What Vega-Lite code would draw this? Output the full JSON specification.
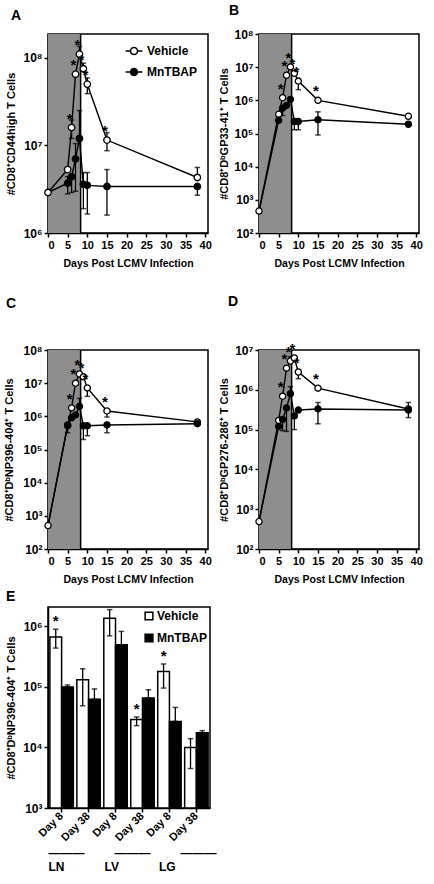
{
 "$schema": "https://vega.github.io/schema/vega-lite/v6.json",
 "padding": {"left": 2, "top": 3, "right": 2, "bottom": 2},
 "background": "white",
 "config": {
  "font": "Liberation Sans",
  "view": {"stroke": "black", "strokeWidth": 1.5},
  "axis": {"grid": false, "domainColor": "black", "domainWidth": 1.5, "tickColor": "black", "tickWidth": 1.5, "tickSize": 4, "labelColor": "black", "labelFont": "Liberation Sans", "labelFontWeight": "bold", "labelFontSize": 11, "titleColor": "black", "titleFont": "Liberation Sans", "titleFontWeight": "bold", "titleFontSize": 11, "labelPadding": 2, "labelOverlap": false},
  "axisX": {"tickCount": 9},
  "title": {"font": "Liberation Sans", "fontSize": 14, "fontWeight": "bold", "anchor": "start", "frame": "group", "color": "black"},
  "legend": {"labelFont": "Liberation Sans", "labelFontWeight": "bold", "labelFontSize": 12, "labelColor": "black"}
 },
 "datasets": {
  "shade": [{"panel": "A", "start": 0, "end": 8.3}, {"panel": "B", "start": 0, "end": 8.3}, {"panel": "C", "start": 0, "end": 8.3}, {"panel": "D", "start": 0, "end": 8.3}],
  "lines": [
   {"panel": "A", "series": "Vehicle", "day": 0, "value": 2900000},
   {"panel": "A", "series": "Vehicle", "day": 5, "value": 5300000},
   {"panel": "A", "series": "Vehicle", "day": 6, "value": 16000000, "sig": true},
   {"panel": "A", "series": "Vehicle", "day": 7, "value": 65000000, "sig": true},
   {"panel": "A", "series": "Vehicle", "day": 8, "value": 110000000, "sig": true},
   {"panel": "A", "series": "Vehicle", "day": 9, "value": 75000000, "sig": true},
   {"panel": "A", "series": "Vehicle", "day": 10, "value": 50000000, "sig": true},
   {"panel": "A", "series": "Vehicle", "day": 15, "value": 11500000, "sig": true},
   {"panel": "A", "series": "Vehicle", "day": 38, "value": 4300000},
   {"panel": "A", "series": "MnTBAP", "day": 0, "value": 2900000},
   {"panel": "A", "series": "MnTBAP", "day": 5, "value": 3700000},
   {"panel": "A", "series": "MnTBAP", "day": 6, "value": 4400000},
   {"panel": "A", "series": "MnTBAP", "day": 7, "value": 7000000},
   {"panel": "A", "series": "MnTBAP", "day": 8, "value": 12000000},
   {"panel": "A", "series": "MnTBAP", "day": 9, "value": 3600000},
   {"panel": "A", "series": "MnTBAP", "day": 10, "value": 3500000},
   {"panel": "A", "series": "MnTBAP", "day": 15, "value": 3400000},
   {"panel": "A", "series": "MnTBAP", "day": 38, "value": 3400000},
   {"panel": "B", "series": "Vehicle", "day": 0, "value": 460},
   {"panel": "B", "series": "Vehicle", "day": 5, "value": 380000},
   {"panel": "B", "series": "Vehicle", "day": 6, "value": 1200000, "sig": true},
   {"panel": "B", "series": "Vehicle", "day": 7, "value": 5700000, "sig": true},
   {"panel": "B", "series": "Vehicle", "day": 8, "value": 10200000, "sig": true},
   {"panel": "B", "series": "Vehicle", "day": 9, "value": 6500000, "sig": true},
   {"panel": "B", "series": "Vehicle", "day": 10, "value": 3800000, "sig": true},
   {"panel": "B", "series": "Vehicle", "day": 15, "value": 1000000, "sig": true},
   {"panel": "B", "series": "Vehicle", "day": 38, "value": 330000},
   {"panel": "B", "series": "MnTBAP", "day": 0, "value": 460},
   {"panel": "B", "series": "MnTBAP", "day": 5, "value": 250000},
   {"panel": "B", "series": "MnTBAP", "day": 6, "value": 580000},
   {"panel": "B", "series": "MnTBAP", "day": 7, "value": 700000},
   {"panel": "B", "series": "MnTBAP", "day": 8, "value": 1070000},
   {"panel": "B", "series": "MnTBAP", "day": 9, "value": 230000},
   {"panel": "B", "series": "MnTBAP", "day": 10, "value": 230000},
   {"panel": "B", "series": "MnTBAP", "day": 15, "value": 260000},
   {"panel": "B", "series": "MnTBAP", "day": 38, "value": 190000},
   {"panel": "C", "series": "Vehicle", "day": 0, "value": 510},
   {"panel": "C", "series": "Vehicle", "day": 5, "value": 520000},
   {"panel": "C", "series": "Vehicle", "day": 6, "value": 1800000, "sig": true},
   {"panel": "C", "series": "Vehicle", "day": 7, "value": 10000000, "sig": true},
   {"panel": "C", "series": "Vehicle", "day": 8, "value": 19000000, "sig": true},
   {"panel": "C", "series": "Vehicle", "day": 9, "value": 15500000, "sig": true},
   {"panel": "C", "series": "Vehicle", "day": 10, "value": 7200000, "sig": true},
   {"panel": "C", "series": "Vehicle", "day": 15, "value": 1450000, "sig": true},
   {"panel": "C", "series": "Vehicle", "day": 38, "value": 680000},
   {"panel": "C", "series": "MnTBAP", "day": 0, "value": 510},
   {"panel": "C", "series": "MnTBAP", "day": 5, "value": 550000},
   {"panel": "C", "series": "MnTBAP", "day": 6, "value": 900000},
   {"panel": "C", "series": "MnTBAP", "day": 7, "value": 1100000},
   {"panel": "C", "series": "MnTBAP", "day": 8, "value": 2000000},
   {"panel": "C", "series": "MnTBAP", "day": 9, "value": 520000},
   {"panel": "C", "series": "MnTBAP", "day": 10, "value": 520000},
   {"panel": "C", "series": "MnTBAP", "day": 15, "value": 550000},
   {"panel": "C", "series": "MnTBAP", "day": 38, "value": 600000},
   {"panel": "D", "series": "Vehicle", "day": 0, "value": 490},
   {"panel": "D", "series": "Vehicle", "day": 5, "value": 170000},
   {"panel": "D", "series": "Vehicle", "day": 6, "value": 690000, "sig": true},
   {"panel": "D", "series": "Vehicle", "day": 7, "value": 3500000, "sig": true},
   {"panel": "D", "series": "Vehicle", "day": 8, "value": 5300000, "sig": true},
   {"panel": "D", "series": "Vehicle", "day": 9, "value": 6300000, "sig": true},
   {"panel": "D", "series": "Vehicle", "day": 10, "value": 2800000, "sig": true},
   {"panel": "D", "series": "Vehicle", "day": 15, "value": 1100000, "sig": true},
   {"panel": "D", "series": "Vehicle", "day": 38, "value": 330000},
   {"panel": "D", "series": "MnTBAP", "day": 0, "value": 490},
   {"panel": "D", "series": "MnTBAP", "day": 5, "value": 120000},
   {"panel": "D", "series": "MnTBAP", "day": 6, "value": 180000},
   {"panel": "D", "series": "MnTBAP", "day": 7, "value": 350000},
   {"panel": "D", "series": "MnTBAP", "day": 8, "value": 800000},
   {"panel": "D", "series": "MnTBAP", "day": 9, "value": 220000},
   {"panel": "D", "series": "MnTBAP", "day": 10, "value": 310000},
   {"panel": "D", "series": "MnTBAP", "day": 15, "value": 330000},
   {"panel": "D", "series": "MnTBAP", "day": 38, "value": 310000}
  ],
  "errs": [
   {"panel": "A", "series": "Vehicle", "day": 6, "lo": 12000000, "hi": 19500000},
   {"panel": "A", "series": "Vehicle", "day": 8, "lo": 110000000, "hi": 135000000},
   {"panel": "A", "series": "Vehicle", "day": 9, "lo": 75000000, "hi": 87000000},
   {"panel": "A", "series": "Vehicle", "day": 10, "lo": 39000000, "hi": 59000000},
   {"panel": "A", "series": "Vehicle", "day": 15, "lo": 8700000, "hi": 14000000},
   {"panel": "A", "series": "Vehicle", "day": 38, "lo": 4300000, "hi": 5600000},
   {"panel": "A", "series": "MnTBAP", "day": 5, "lo": 2800000, "hi": 4400000},
   {"panel": "A", "series": "MnTBAP", "day": 6, "lo": 2900000, "hi": 4400000},
   {"panel": "A", "series": "MnTBAP", "day": 7, "lo": 3000000, "hi": 10500000},
   {"panel": "A", "series": "MnTBAP", "day": 8, "lo": 12000000, "hi": 25000000},
   {"panel": "A", "series": "MnTBAP", "day": 9, "lo": 1900000, "hi": 4900000},
   {"panel": "A", "series": "MnTBAP", "day": 10, "lo": 1650000, "hi": 4900000},
   {"panel": "A", "series": "MnTBAP", "day": 15, "lo": 1600000, "hi": 5300000},
   {"panel": "A", "series": "MnTBAP", "day": 38, "lo": 2700000, "hi": 3400000},
   {"panel": "B", "series": "Vehicle", "day": 10, "lo": 2100000, "hi": 3800000},
   {"panel": "B", "series": "MnTBAP", "day": 6, "lo": 350000, "hi": 580000},
   {"panel": "B", "series": "MnTBAP", "day": 9, "lo": 130000, "hi": 230000},
   {"panel": "B", "series": "MnTBAP", "day": 10, "lo": 130000, "hi": 230000},
   {"panel": "B", "series": "MnTBAP", "day": 15, "lo": 90000, "hi": 450000},
   {"panel": "C", "series": "Vehicle", "day": 10, "lo": 4000000, "hi": 7200000},
   {"panel": "C", "series": "Vehicle", "day": 15, "lo": 950000, "hi": 1450000},
   {"panel": "C", "series": "MnTBAP", "day": 5, "lo": 320000, "hi": 550000},
   {"panel": "C", "series": "MnTBAP", "day": 8, "lo": 2000000, "hi": 3500000},
   {"panel": "C", "series": "MnTBAP", "day": 9, "lo": 200000, "hi": 520000},
   {"panel": "C", "series": "MnTBAP", "day": 10, "lo": 260000, "hi": 520000},
   {"panel": "C", "series": "MnTBAP", "day": 15, "lo": 320000, "hi": 550000},
   {"panel": "D", "series": "Vehicle", "day": 8, "lo": 5300000, "hi": 6800000},
   {"panel": "D", "series": "Vehicle", "day": 10, "lo": 1900000, "hi": 2800000},
   {"panel": "D", "series": "Vehicle", "day": 38, "lo": 200000, "hi": 480000},
   {"panel": "D", "series": "MnTBAP", "day": 6, "lo": 94000, "hi": 180000},
   {"panel": "D", "series": "MnTBAP", "day": 7, "lo": 90000, "hi": 350000},
   {"panel": "D", "series": "MnTBAP", "day": 8, "lo": 800000, "hi": 1200000},
   {"panel": "D", "series": "MnTBAP", "day": 9, "lo": 100000, "hi": 220000},
   {"panel": "D", "series": "MnTBAP", "day": 15, "lo": 140000, "hi": 480000}
  ],
  "bars": [
   {"cat": "LN Day 8", "series": "Vehicle", "value": 670000, "lo": 440000, "hi": 900000, "sig": true},
   {"cat": "LN Day 8", "series": "MnTBAP", "value": 100000, "lo": 100000, "hi": 108000},
   {"cat": "LN Day 38", "series": "Vehicle", "value": 132000, "lo": 49000, "hi": 200000},
   {"cat": "LN Day 38", "series": "MnTBAP", "value": 63000, "lo": 63000, "hi": 93000},
   {"cat": "LV Day 8", "series": "Vehicle", "value": 1370000, "lo": 700000, "hi": 1900000},
   {"cat": "LV Day 8", "series": "MnTBAP", "value": 500000, "lo": 500000, "hi": 830000},
   {"cat": "LV Day 38", "series": "Vehicle", "value": 29000, "lo": 23000, "hi": 32000, "sig": true},
   {"cat": "LV Day 38", "series": "MnTBAP", "value": 66000, "lo": 66000, "hi": 90000},
   {"cat": "LG Day 8", "series": "Vehicle", "value": 180000, "lo": 96000, "hi": 240000, "sig": true},
   {"cat": "LG Day 8", "series": "MnTBAP", "value": 27000, "lo": 27000, "hi": 46000},
   {"cat": "LG Day 38", "series": "Vehicle", "value": 10000, "lo": 4500, "hi": 14000},
   {"cat": "LG Day 38", "series": "MnTBAP", "value": 17500, "lo": 17500, "hi": 19000}
  ]
 },
 "resolve": {"scale": {"x": "independent", "y": "independent", "fill": "independent"}, "legend": {"fill": "independent"}},
 "spacing": 2,
 "vconcat": [
  {
   "resolve": {"scale": {"x": "independent", "y": "independent", "fill": "independent"}, "legend": {"fill": "independent"}},
   "spacing": 24,
   "vconcat": [
    {
     "resolve": {"scale": {"x": "independent", "y": "independent", "fill": "independent"}, "legend": {"fill": "independent"}},
     "spacing": 4,
     "hconcat": [
      {
       "width": 160, "height": 199,
       "title": {"text": "A", "dx": -37, "offset": 10},
       "layer": [
        {"data": {"name": "shade"}, "transform": [{"filter": "datum.panel === 'A'"}], "mark": {"type": "rect", "fill": "#8e8e8e"},
         "encoding": {"x": {"field": "start", "type": "quantitative", "scale": {"domain": [0, 40.7], "nice": false, "zero": false}, "axis": {"values": [0, 5, 10, 15, 20, 25, 30, 35, 40], "tickCount": 9, "labelOverlap": false, "labelBound": false, "title": "Days Post LCMV Infection", "titlePadding": 8, "titleFontSize": 10.5}}, "x2": {"field": "end"}}},
        {"data": {"name": "shade"}, "transform": [{"filter": "datum.panel === 'A'"}], "mark": {"type": "rule", "color": "black", "strokeWidth": 1.5},
         "encoding": {"x": {"field": "end", "type": "quantitative"}}},
        {"data": {"name": "lines"}, "transform": [{"filter": "datum.panel === 'A'"}], "mark": {"type": "line", "color": "black", "strokeWidth": 1.4},
         "encoding": {"x": {"field": "day", "type": "quantitative", "axis": {"values": [0, 5, 10, 15, 20, 25, 30, 35, 40], "tickCount": 9, "labelOverlap": false, "labelBound": false, "title": "Days Post LCMV Infection", "titlePadding": 8, "titleFontSize": 10.5}}, "y": {"field": "value", "type": "quantitative", "scale": {"type": "log", "domain": [1000000, 187000000], "nice": false}, "axis": {"values": [1000000, 10000000, 100000000], "labelExpr": "'10' + ['⁰','¹','²','³','⁴','⁵','⁶','⁷','⁸','⁹'][round(log(datum.value)/LN10)]", "title": "#CD8⁺CD44high T Cells", "titlePadding": 6, "labelFontSize": 12}}, "detail": {"field": "series"}}},
        {"data": {"name": "errs"}, "transform": [{"filter": "datum.panel === 'A'"}], "mark": {"type": "rule", "color": "black", "strokeWidth": 1.3},
         "encoding": {"x": {"field": "day", "type": "quantitative"}, "y": {"field": "lo", "type": "quantitative"}, "y2": {"field": "hi"}}},
        {"data": {"name": "errs"}, "transform": [{"filter": "datum.panel === 'A'"}], "mark": {"type": "point", "shape": "stroke", "size": 30, "stroke": "black", "strokeWidth": 1.5},
         "encoding": {"x": {"field": "day", "type": "quantitative"}, "y": {"field": "hi", "type": "quantitative"}}},
        {"data": {"name": "errs"}, "transform": [{"filter": "datum.panel === 'A'"}], "mark": {"type": "point", "shape": "stroke", "size": 30, "stroke": "black", "strokeWidth": 1.5},
         "encoding": {"x": {"field": "day", "type": "quantitative"}, "y": {"field": "lo", "type": "quantitative"}}},
        {"data": {"name": "lines"}, "transform": [{"filter": "datum.panel === 'A' && !(datum.series === 'MnTBAP' && datum.day === 0)"}], "mark": {"type": "point", "filled": true, "size": 42, "stroke": "black", "strokeWidth": 1.3, "opacity": 1},
         "encoding": {"x": {"field": "day", "type": "quantitative"}, "y": {"field": "value", "type": "quantitative"},
          "fill": {"field": "series", "type": "nominal", "scale": {"domain": ["Vehicle", "MnTBAP"], "range": ["white", "black"]},
           "legend": {"title": null, "orient": "top-right", "offset": 3, "padding": 8, "symbolType": "M-2.4,0L-1,0M1,0L2.4,0M-1,0A1,1 0 1,1 1,0A1,1 0 1,1 -1,0Z", "symbolSize": 49, "symbolStrokeColor": "black", "symbolStrokeWidth": 1.5, "labelOffset": 7, "rowPadding": 7, "symbolOpacity": 1}}}},
        {"data": {"name": "lines"}, "transform": [{"filter": "datum.panel === 'A' && datum.sig"}], "mark": {"type": "text", "text": "*", "fontSize": 15, "fontWeight": "bold", "dy": -9, "dx": -2, "fill": "black"},
         "encoding": {"x": {"field": "day", "type": "quantitative"}, "y": {"field": "value", "type": "quantitative"}}}
       ]
      },
      {
       "width": 160, "height": 199,
       "title": {"text": "B", "dx": -30, "offset": 10},
       "layer": [
        {"data": {"name": "shade"}, "transform": [{"filter": "datum.panel === 'B'"}], "mark": {"type": "rect", "fill": "#8e8e8e"},
         "encoding": {"x": {"field": "start", "type": "quantitative", "scale": {"domain": [0, 40.7], "nice": false, "zero": false}, "axis": {"values": [0, 5, 10, 15, 20, 25, 30, 35, 40], "tickCount": 9, "labelOverlap": false, "labelBound": false, "title": "Days Post LCMV Infection", "titlePadding": 8, "titleFontSize": 10.5}}, "x2": {"field": "end"}}},
        {"data": {"name": "shade"}, "transform": [{"filter": "datum.panel === 'B'"}], "mark": {"type": "rule", "color": "black", "strokeWidth": 1.5},
         "encoding": {"x": {"field": "end", "type": "quantitative"}}},
        {"data": {"name": "lines"}, "transform": [{"filter": "datum.panel === 'B'"}], "mark": {"type": "line", "color": "black", "strokeWidth": 1.4},
         "encoding": {"x": {"field": "day", "type": "quantitative", "axis": {"values": [0, 5, 10, 15, 20, 25, 30, 35, 40], "tickCount": 9, "labelOverlap": false, "labelBound": false, "title": "Days Post LCMV Infection", "titlePadding": 8, "titleFontSize": 10.5}}, "y": {"field": "value", "type": "quantitative", "scale": {"type": "log", "domain": [100, 100000000], "nice": false}, "axis": {"values": [100, 1000, 10000, 100000, 1000000, 10000000, 100000000], "labelExpr": "'10' + ['⁰','¹','²','³','⁴','⁵','⁶','⁷','⁸','⁹'][round(log(datum.value)/LN10)]", "title": "#CD8⁺DᵇGP33-41⁺ T Cells", "titlePadding": 4, "labelFontSize": 12}}, "detail": {"field": "series"}}},
        {"data": {"name": "errs"}, "transform": [{"filter": "datum.panel === 'B'"}], "mark": {"type": "rule", "color": "black", "strokeWidth": 1.3},
         "encoding": {"x": {"field": "day", "type": "quantitative"}, "y": {"field": "lo", "type": "quantitative"}, "y2": {"field": "hi"}}},
        {"data": {"name": "errs"}, "transform": [{"filter": "datum.panel === 'B'"}], "mark": {"type": "point", "shape": "stroke", "size": 30, "stroke": "black", "strokeWidth": 1.5},
         "encoding": {"x": {"field": "day", "type": "quantitative"}, "y": {"field": "hi", "type": "quantitative"}}},
        {"data": {"name": "errs"}, "transform": [{"filter": "datum.panel === 'B'"}], "mark": {"type": "point", "shape": "stroke", "size": 30, "stroke": "black", "strokeWidth": 1.5},
         "encoding": {"x": {"field": "day", "type": "quantitative"}, "y": {"field": "lo", "type": "quantitative"}}},
        {"data": {"name": "lines"}, "transform": [{"filter": "datum.panel === 'B' && !(datum.series === 'MnTBAP' && datum.day === 0)"}], "mark": {"type": "point", "filled": true, "size": 38, "stroke": "black", "strokeWidth": 1.3, "opacity": 1},
         "encoding": {"x": {"field": "day", "type": "quantitative"}, "y": {"field": "value", "type": "quantitative"},
          "fill": {"field": "series", "type": "nominal", "scale": {"domain": ["Vehicle", "MnTBAP"], "range": ["white", "black"]}, "legend": null}}},
        {"data": {"name": "lines"}, "transform": [{"filter": "datum.panel === 'B' && datum.sig"}], "mark": {"type": "text", "text": "*", "fontSize": 15, "fontWeight": "bold", "dy": -9, "dx": -2, "fill": "black"},
         "encoding": {"x": {"field": "day", "type": "quantitative"}, "y": {"field": "value", "type": "quantitative"}}}
       ]
      }
     ]
    },
    {
     "resolve": {"scale": {"x": "independent", "y": "independent", "fill": "independent"}, "legend": {"fill": "independent"}},
     "spacing": 4,
     "hconcat": [
      {
       "width": 160, "height": 199,
       "title": {"text": "C", "dx": -42, "offset": 33},
       "layer": [
        {"data": {"name": "shade"}, "transform": [{"filter": "datum.panel === 'C'"}], "mark": {"type": "rect", "fill": "#8e8e8e"},
         "encoding": {"x": {"field": "start", "type": "quantitative", "scale": {"domain": [0, 40.7], "nice": false, "zero": false}, "axis": {"values": [0, 5, 10, 15, 20, 25, 30, 35, 40], "tickCount": 9, "labelOverlap": false, "labelBound": false, "title": "Days Post LCMV Infection", "titlePadding": 8, "titleFontSize": 10.5}}, "x2": {"field": "end"}}},
        {"data": {"name": "shade"}, "transform": [{"filter": "datum.panel === 'C'"}], "mark": {"type": "rule", "color": "black", "strokeWidth": 1.5},
         "encoding": {"x": {"field": "end", "type": "quantitative"}}},
        {"data": {"name": "lines"}, "transform": [{"filter": "datum.panel === 'C'"}], "mark": {"type": "line", "color": "black", "strokeWidth": 1.4},
         "encoding": {"x": {"field": "day", "type": "quantitative", "axis": {"values": [0, 5, 10, 15, 20, 25, 30, 35, 40], "tickCount": 9, "labelOverlap": false, "labelBound": false, "title": "Days Post LCMV Infection", "titlePadding": 8, "titleFontSize": 10.5}}, "y": {"field": "value", "type": "quantitative", "scale": {"type": "log", "domain": [100, 100000000], "nice": false}, "axis": {"values": [100, 1000, 10000, 100000, 1000000, 10000000, 100000000], "labelExpr": "'10' + ['⁰','¹','²','³','⁴','⁵','⁶','⁷','⁸','⁹'][round(log(datum.value)/LN10)]", "title": "#CD8⁺DᵇNP396-404⁺ T Cells", "titlePadding": 8, "labelFontSize": 12}}, "detail": {"field": "series"}}},
        {"data": {"name": "errs"}, "transform": [{"filter": "datum.panel === 'C'"}], "mark": {"type": "rule", "color": "black", "strokeWidth": 1.3},
         "encoding": {"x": {"field": "day", "type": "quantitative"}, "y": {"field": "lo", "type": "quantitative"}, "y2": {"field": "hi"}}},
        {"data": {"name": "errs"}, "transform": [{"filter": "datum.panel === 'C'"}], "mark": {"type": "point", "shape": "stroke", "size": 30, "stroke": "black", "strokeWidth": 1.5},
         "encoding": {"x": {"field": "day", "type": "quantitative"}, "y": {"field": "hi", "type": "quantitative"}}},
        {"data": {"name": "errs"}, "transform": [{"filter": "datum.panel === 'C'"}], "mark": {"type": "point", "shape": "stroke", "size": 30, "stroke": "black", "strokeWidth": 1.5},
         "encoding": {"x": {"field": "day", "type": "quantitative"}, "y": {"field": "lo", "type": "quantitative"}}},
        {"data": {"name": "lines"}, "transform": [{"filter": "datum.panel === 'C' && !(datum.series === 'MnTBAP' && datum.day === 0)"}], "mark": {"type": "point", "filled": true, "size": 38, "stroke": "black", "strokeWidth": 1.3, "opacity": 1},
         "encoding": {"x": {"field": "day", "type": "quantitative"}, "y": {"field": "value", "type": "quantitative"},
          "fill": {"field": "series", "type": "nominal", "scale": {"domain": ["Vehicle", "MnTBAP"], "range": ["white", "black"]}, "legend": null}}},
        {"data": {"name": "lines"}, "transform": [{"filter": "datum.panel === 'C' && datum.sig"}], "mark": {"type": "text", "text": "*", "fontSize": 15, "fontWeight": "bold", "dy": -9, "dx": -2, "fill": "black"},
         "encoding": {"x": {"field": "day", "type": "quantitative"}, "y": {"field": "value", "type": "quantitative"}}}
       ]
      },
      {
       "width": 160, "height": 199,
       "title": {"text": "D", "dx": -31, "offset": 33},
       "layer": [
        {"data": {"name": "shade"}, "transform": [{"filter": "datum.panel === 'D'"}], "mark": {"type": "rect", "fill": "#8e8e8e"},
         "encoding": {"x": {"field": "start", "type": "quantitative", "scale": {"domain": [0, 40.7], "nice": false, "zero": false}, "axis": {"values": [0, 5, 10, 15, 20, 25, 30, 35, 40], "tickCount": 9, "labelOverlap": false, "labelBound": false, "title": "Days Post LCMV Infection", "titlePadding": 8, "titleFontSize": 10.5}}, "x2": {"field": "end"}}},
        {"data": {"name": "shade"}, "transform": [{"filter": "datum.panel === 'D'"}], "mark": {"type": "rule", "color": "black", "strokeWidth": 1.5},
         "encoding": {"x": {"field": "end", "type": "quantitative"}}},
        {"data": {"name": "lines"}, "transform": [{"filter": "datum.panel === 'D'"}], "mark": {"type": "line", "color": "black", "strokeWidth": 1.4},
         "encoding": {"x": {"field": "day", "type": "quantitative", "axis": {"values": [0, 5, 10, 15, 20, 25, 30, 35, 40], "tickCount": 9, "labelOverlap": false, "labelBound": false, "title": "Days Post LCMV Infection", "titlePadding": 8, "titleFontSize": 10.5}}, "y": {"field": "value", "type": "quantitative", "scale": {"type": "log", "domain": [100, 10000000], "nice": false}, "axis": {"values": [100, 1000, 10000, 100000, 1000000, 10000000], "labelExpr": "'10' + ['⁰','¹','²','³','⁴','⁵','⁶','⁷','⁸','⁹'][round(log(datum.value)/LN10)]", "title": "#CD8⁺DᵇGP276-286⁺ T Cells", "titlePadding": 4, "labelFontSize": 12}}, "detail": {"field": "series"}}},
        {"data": {"name": "errs"}, "transform": [{"filter": "datum.panel === 'D'"}], "mark": {"type": "rule", "color": "black", "strokeWidth": 1.3},
         "encoding": {"x": {"field": "day", "type": "quantitative"}, "y": {"field": "lo", "type": "quantitative"}, "y2": {"field": "hi"}}},
        {"data": {"name": "errs"}, "transform": [{"filter": "datum.panel === 'D'"}], "mark": {"type": "point", "shape": "stroke", "size": 30, "stroke": "black", "strokeWidth": 1.5},
         "encoding": {"x": {"field": "day", "type": "quantitative"}, "y": {"field": "hi", "type": "quantitative"}}},
        {"data": {"name": "errs"}, "transform": [{"filter": "datum.panel === 'D'"}], "mark": {"type": "point", "shape": "stroke", "size": 30, "stroke": "black", "strokeWidth": 1.5},
         "encoding": {"x": {"field": "day", "type": "quantitative"}, "y": {"field": "lo", "type": "quantitative"}}},
        {"data": {"name": "lines"}, "transform": [{"filter": "datum.panel === 'D' && !(datum.series === 'MnTBAP' && datum.day === 0)"}], "mark": {"type": "point", "filled": true, "size": 38, "stroke": "black", "strokeWidth": 1.3, "opacity": 1},
         "encoding": {"x": {"field": "day", "type": "quantitative"}, "y": {"field": "value", "type": "quantitative"},
          "fill": {"field": "series", "type": "nominal", "scale": {"domain": ["Vehicle", "MnTBAP"], "range": ["white", "black"]}, "legend": null}}},
        {"data": {"name": "lines"}, "transform": [{"filter": "datum.panel === 'D' && datum.sig"}], "mark": {"type": "text", "text": "*", "fontSize": 15, "fontWeight": "bold", "dy": -9, "dx": -2, "fill": "black"},
         "encoding": {"x": {"field": "day", "type": "quantitative"}, "y": {"field": "value", "type": "quantitative"}}}
       ]
      }
     ]
    }
   ]
  },
  {
   "width": 162, "height": 201,
   "title": {"text": "E", "dx": -42, "offset": 3},
   "data": {"name": "bars"},
   "layer": [
    {"mark": {"type": "bar", "stroke": "black", "strokeWidth": 1.5},
     "encoding": {
      "x": {"field": "cat", "type": "nominal", "sort": ["LN Day 8", "LN Day 38", "LV Day 8", "LV Day 38", "LG Day 8", "LG Day 38"], "scale": {"paddingInner": 0.13, "paddingOuter": 0.07},
       "axis": {"labelAngle": -45, "labelAlign": "right", "labelBaseline": "middle", "labelExpr": "substring(datum.label, 3)", "labelFontSize": 11, "titleAnchor": "start", "titleFontSize": 12, "titlePadding": 5,
        "title": ["———\u00a0\u00a0\u00a0\u00a0\u00a0\u00a0\u00a0\u00a0\u00a0———\u00a0\u00a0\u00a0\u00a0\u00a0\u00a0\u00a0\u00a0\u00a0———", "\u00a0LN\u00a0\u00a0\u00a0\u00a0\u00a0\u00a0\u00a0\u00a0\u00a0\u00a0\u00a0\u00a0LV\u00a0\u00a0\u00a0\u00a0\u00a0\u00a0\u00a0\u00a0\u00a0\u00a0\u00a0\u00a0LG"]}},
      "xOffset": {"field": "series", "sort": ["Vehicle", "MnTBAP"]},
      "y": {"field": "value", "type": "quantitative", "scale": {"type": "log", "domain": [1000, 2100000], "nice": false}, "axis": {"values": [1000, 10000, 100000, 1000000], "labelExpr": "'10' + ['⁰','¹','²','³','⁴','⁵','⁶','⁷','⁸','⁹'][round(log(datum.value)/LN10)]", "title": "#CD8⁺DᵇNP396-404⁺ T Cells", "titlePadding": 6, "labelFontSize": 12}},
      "y2": {"datum": 1000},
      "fill": {"field": "series", "type": "nominal", "scale": {"domain": ["Vehicle", "MnTBAP"], "range": ["white", "black"]},
       "legend": {"title": null, "orient": "top-right", "offset": 3, "symbolType": "square", "symbolSize": 60, "symbolStrokeColor": "black", "symbolStrokeWidth": 1.5, "labelOffset": 2, "rowPadding": 8, "symbolOpacity": 1}}
     }},
    {"mark": {"type": "rule", "color": "black", "strokeWidth": 1.3},
     "encoding": {"x": {"field": "cat", "type": "nominal", "sort": ["LN Day 8", "LN Day 38", "LV Day 8", "LV Day 38", "LG Day 8", "LG Day 38"]}, "xOffset": {"field": "series", "sort": ["Vehicle", "MnTBAP"]}, "y": {"field": "lo", "type": "quantitative"}, "y2": {"field": "hi"}}},
    {"mark": {"type": "point", "shape": "stroke", "size": 30, "stroke": "black", "strokeWidth": 1.5},
     "encoding": {"x": {"field": "cat", "type": "nominal", "sort": ["LN Day 8", "LN Day 38", "LV Day 8", "LV Day 38", "LG Day 8", "LG Day 38"]}, "xOffset": {"field": "series", "sort": ["Vehicle", "MnTBAP"]}, "y": {"field": "hi", "type": "quantitative"}}},
    {"mark": {"type": "point", "shape": "stroke", "size": 30, "stroke": "black", "strokeWidth": 1.5},
     "encoding": {"x": {"field": "cat", "type": "nominal", "sort": ["LN Day 8", "LN Day 38", "LV Day 8", "LV Day 38", "LG Day 8", "LG Day 38"]}, "xOffset": {"field": "series", "sort": ["Vehicle", "MnTBAP"]}, "y": {"field": "lo", "type": "quantitative"}}},
    {"transform": [{"filter": "datum.sig"}], "mark": {"type": "text", "text": "*", "fontSize": 15, "fontWeight": "bold", "dy": -8, "fill": "black"},
     "encoding": {"x": {"field": "cat", "type": "nominal", "sort": ["LN Day 8", "LN Day 38", "LV Day 8", "LV Day 38", "LG Day 8", "LG Day 38"]}, "xOffset": {"field": "series", "sort": ["Vehicle", "MnTBAP"]}, "y": {"field": "hi", "type": "quantitative"}}}
   ]
  }
 ]
}
